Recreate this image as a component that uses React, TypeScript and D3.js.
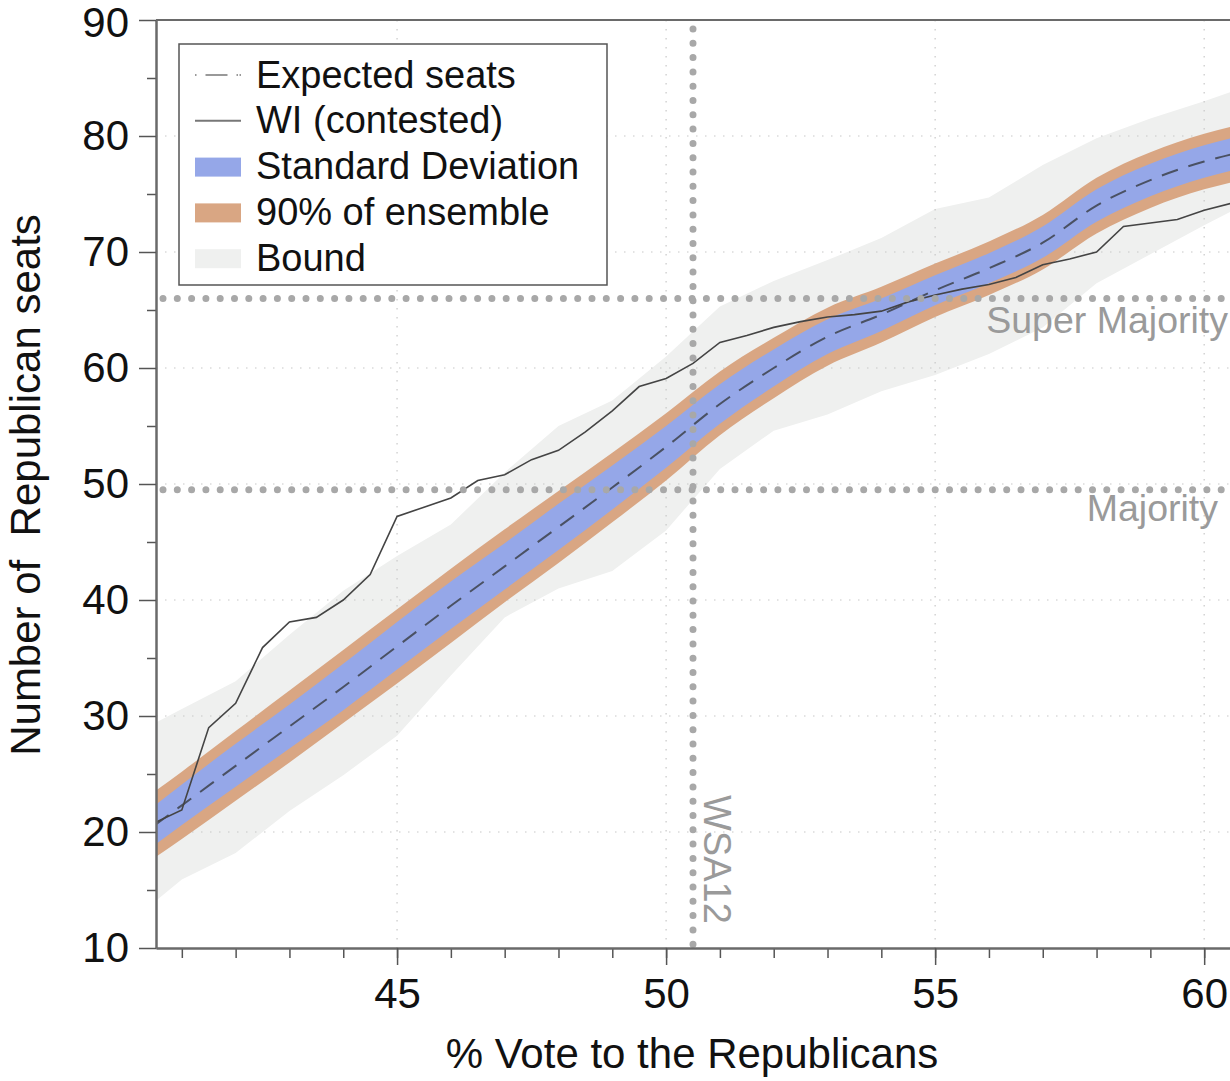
import React, { useEffect, useRef } from 'react';
import * as d3 from 'd3';

// ensemble summary, one value per vote share
const voteShare = [40.5, 41, 42, 43, 44, 45, 46, 47, 48, 49, 50, 51, 52, 53, 54, 55, 56, 57, 58, 59, 60, 60.5];
const expectedSeats = [20.6, 22.3, 25.7, 29.1, 32.5, 36.0, 39.5, 42.9, 46.3, 49.7, 53.2, 56.9, 60.0, 62.7, 64.6, 66.7, 68.6, 70.8, 74.0, 76.2, 77.8, 78.4];
const sdLower = [18.9, 20.6, 23.9, 27.2, 30.5, 34.0, 37.5, 40.9, 44.3, 47.8, 51.4, 55.2, 58.4, 61.2, 63.2, 65.4, 67.3, 69.5, 72.6, 74.8, 76.4, 77.0];
const sdUpper = [22.3, 24.1, 27.6, 31.0, 34.5, 38.1, 41.6, 44.9, 48.3, 51.6, 55.0, 58.6, 61.6, 64.2, 66.0, 68.0, 69.9, 72.2, 75.4, 77.6, 79.2, 79.8];
const ensembleLower = [17.8, 19.4, 22.7, 26.0, 29.4, 32.8, 36.3, 39.8, 43.2, 46.7, 50.3, 54.2, 57.4, 60.2, 62.2, 64.4, 66.3, 68.5, 71.6, 73.8, 75.4, 76.0];
const ensembleUpper = [23.5, 25.2, 28.7, 32.2, 35.7, 39.2, 42.7, 46.1, 49.4, 52.7, 56.1, 59.7, 62.6, 65.2, 67.0, 69.0, 70.9, 73.2, 76.4, 78.6, 80.2, 80.8];
const boundLower = [14.0, 15.9, 18.2, 21.8, 24.9, 28.3, 33.5, 38.5, 41.0, 42.5, 46.0, 51.3, 54.6, 56.0, 58.0, 59.4, 61.2, 63.5, 67.3, 69.8, 72.3, 73.5];
const boundUpper = [29.4, 30.6, 33.0, 37.0, 40.8, 43.8, 46.5, 51.0, 55.0, 57.2, 61.0, 65.3, 67.5, 69.3, 71.2, 73.7, 74.7, 77.5, 79.8, 81.5, 83.0, 83.8];

// WI contested plan
const wiVote = [40.5, 41, 41.5, 42, 42.5, 43, 43.5, 44, 44.5, 45, 45.5, 46, 46.5, 47, 47.5, 48, 48.5, 49, 49.5, 50,
    50.5, 51, 51.5, 52, 52.5, 53, 53.5, 54, 54.5, 55, 55.5, 56, 56.5, 57, 57.5, 58, 58.5, 59, 59.5, 60, 60.5];
const wiSeats = [20.8, 21.9, 29.0, 31.1, 35.9, 38.1, 38.5, 40.0, 42.2, 47.2, 48.0, 48.8, 50.3, 50.8, 52.1, 52.9, 54.5, 56.3, 58.4, 59.1,
    60.4, 62.2, 62.8, 63.5, 64.0, 64.4, 64.6, 64.9, 65.7, 66.3, 66.8, 67.2, 67.8, 68.9, 69.4, 70.0, 72.2, 72.5, 72.8, 73.6, 74.2];

const xTicks = [45, 50, 55, 60];
const yTicks = [10, 20, 30, 40, 50, 60, 70, 80, 90];
const superMajority = 66;
const majority = 49.5;
const wsa12Vote = 50.5;

const legendLabels = ['Expected seats', 'WI (contested)', 'Standard Deviation', '90% of ensemble', 'Bound'];

const FONT = '"Liberation Sans", Arial, Helvetica, sans-serif';
const colors = {
    bound: '#eff0ef',
    ensemble: '#d9a683',
    sd: '#95a7e8',
    mean: '#4a5163',
    wi: '#444444',
    marker: '#a8a8a8',
    grid: '#c8c8c8',
    axis: '#6a6a6a'
};

const width = 1230;
const height = 1081;
const margin = { left: 156, top: 20, right: 0, bottom: 133 };

export default function App() {
    const xAxisRef = useRef<SVGGElement>(null);
    const xMinorRef = useRef<SVGGElement>(null);
    const yAxisRef = useRef<SVGGElement>(null);
    const yMinorRef = useRef<SVGGElement>(null);

    const xScale = d3.scaleLinear().domain([40.52, 60.48]).range([margin.left, width - margin.right]);
    const yScale = d3.scaleLinear().domain([10, 90]).range([height - margin.bottom, margin.top]);
    const plotBottom = height - margin.bottom;

    useEffect(() => {
        const styleAxis = (g: d3.Selection<SVGGElement, unknown, null, undefined>) => {
            g.select('.domain').attr('stroke', colors.axis).attr('stroke-width', 2);
            g.selectAll('.tick line').attr('stroke', '#555').attr('stroke-width', 1.5);
            g.selectAll('.tick text').attr('fill', '#111').style('font-family', FONT).style('font-size', '42px');
        };

        const xMinor = d3.axisBottom(xScale).tickValues(d3.range(41, 61)).tickSize(10).tickSizeOuter(0).tickFormat(() => '');
        const xMajor = d3.axisBottom(xScale).tickValues(xTicks).tickSize(17).tickSizeOuter(0).tickPadding(13).tickFormat(d3.format('d'));
        const yMinor = d3.axisLeft(yScale).tickValues(d3.range(15, 90, 10)).tickSize(9).tickSizeOuter(0).tickFormat(() => '');
        const yMajor = d3.axisLeft(yScale).tickValues(yTicks).tickSize(17).tickSizeOuter(0).tickPadding(10).tickFormat(d3.format('d'));

        d3.select(xMinorRef.current!).call(xMinor).call(styleAxis);
        d3.select(xAxisRef.current!).call(xMajor).call(styleAxis);
        d3.select(yMinorRef.current!).call(yMinor).call(styleAxis);
        d3.select(yAxisRef.current!).call(yMajor).call(styleAxis);
        // keep the top label inside the page
        d3.select(yAxisRef.current!).selectAll<SVGTextElement, number>('.tick text')
            .filter((d) => d === 90).attr('dy', '0.4em');
    }, []);

    const band = (lower: number[], upper: number[]) => d3.area<number>()
        .x((d) => xScale(d))
        .y0((_, i) => yScale(lower[i]))
        .y1((_, i) => yScale(upper[i]))
        .curve(d3.curveMonotoneX)(voteShare) || '';

    const boundPath = d3.area<number>()
        .x((d) => xScale(d))
        .y0((_, i) => yScale(boundLower[i]))
        .y1((_, i) => yScale(boundUpper[i]))(voteShare) || '';

    const meanPath = d3.line<number>()
        .x((d) => xScale(d))
        .y((_, i) => yScale(expectedSeats[i]))
        .curve(d3.curveMonotoneX)(voteShare) || '';

    const wiPath = d3.line<number>()
        .x((d) => xScale(d))
        .y((_, i) => yScale(wiSeats[i]))(wiVote) || '';

    const legendX = 179, legendY = 44, legendRow = 45.8;

    return (
        <svg width={width} height={height} style={{ position: 'absolute', left: 0, top: 0, background: '#fff' }}
            fontFamily={FONT}>
            <defs>
                <clipPath id="plot-clip">
                    <rect x={margin.left} y={margin.top} width={width - margin.left} height={plotBottom - margin.top} />
                </clipPath>
            </defs>

            <g clipPath="url(#plot-clip)">
                <path d={boundPath} fill={colors.bound} />

                {/* grid */}
                {xTicks.map((t) => (
                    <line key={'gx' + t} x1={xScale(t)} x2={xScale(t)} y1={margin.top} y2={plotBottom}
                        stroke={colors.grid} strokeWidth={1.2} strokeDasharray="1.5 7.5" />
                ))}
                {yTicks.slice(1, -1).map((t) => (
                    <line key={'gy' + t} x1={margin.left} x2={width} y1={yScale(t)} y2={yScale(t)}
                        stroke={colors.grid} strokeWidth={1.2} strokeDasharray="1.5 7.5" />
                ))}

                <path d={band(ensembleLower, ensembleUpper)} fill={colors.ensemble} />
                <path d={band(sdLower, sdUpper)} fill={colors.sd} />
                <path d={meanPath} fill="none" stroke={colors.mean} strokeWidth={2} strokeDasharray="17 11" />
                <path d={wiPath} fill="none" stroke={colors.wi} strokeWidth={1.6} />

                {/* reference markers */}
                {[superMajority, majority].map((v) => (
                    <line key={'h' + v} x1={margin.left + 7} x2={width} y1={yScale(v)} y2={yScale(v)}
                        stroke={colors.marker} strokeWidth={7} strokeLinecap="round" strokeDasharray="0 14.3" />
                ))}
                <line x1={xScale(wsa12Vote)} x2={xScale(wsa12Vote)} y1={margin.top + 9} y2={plotBottom - 2}
                    stroke={colors.marker} strokeWidth={7} strokeLinecap="round" strokeDasharray="0 14.3" />
            </g>

            <text x={1228} y={333} textAnchor="end" fill="#9a9a9a" fontSize={37.5}>Super Majority</text>
            <text x={1218} y={521} textAnchor="end" fill="#9a9a9a" fontSize={37.5}>Majority</text>
            <text transform={`translate(${xScale(wsa12Vote) + 11}, 795) rotate(90)`} fill="#9a9a9a" fontSize={38}>WSA12</text>

            {/* frame */}
            <line x1={margin.left} x2={width} y1={margin.top} y2={margin.top} stroke={colors.axis} strokeWidth={2} />
            <g ref={xMinorRef} transform={`translate(0, ${plotBottom})`} />
            <g ref={xAxisRef} transform={`translate(0, ${plotBottom})`} />
            <g ref={yMinorRef} transform={`translate(${margin.left}, 0)`} />
            <g ref={yAxisRef} transform={`translate(${margin.left}, 0)`} />

            {/* legend */}
            <g>
                <rect x={legendX} y={legendY} width={428} height={241} fill="#fff" stroke="#555" strokeWidth={1.5} />
                {legendLabels.map((label, i) => {
                    const cy = 75 + i * legendRow;
                    let swatch;
                    if (i === 0)
                        swatch = <line x1={195} x2={241} y1={cy} y2={cy} stroke="#999" strokeWidth={2} strokeDasharray="1.5 9 22 9 1.5" />;
                    else if (i === 1)
                        swatch = <line x1={195} x2={241} y1={cy} y2={cy} stroke="#777" strokeWidth={2} />;
                    else {
                        const fill = i === 2 ? colors.sd : i === 3 ? colors.ensemble : colors.bound;
                        swatch = <rect x={195} y={cy - 9} width={46} height={19} fill={fill} />;
                    }
                    return (
                        <g key={label}>
                            {swatch}
                            <text x={256} y={cy + 12.5} fontSize={38} fill="#111">{label}</text>
                        </g>
                    );
                })}
            </g>

            {/* axis titles */}
            <text x={692} y={1068} textAnchor="middle" fontSize={42} fill="#111">% Vote to the Republicans</text>
            <text transform="translate(40, 485) rotate(-90)" textAnchor="middle" fontSize={42} fill="#111"
                style={{ whiteSpace: 'pre' }}>{'Number of  Republican seats'}</text>
        </svg>
    );
}
